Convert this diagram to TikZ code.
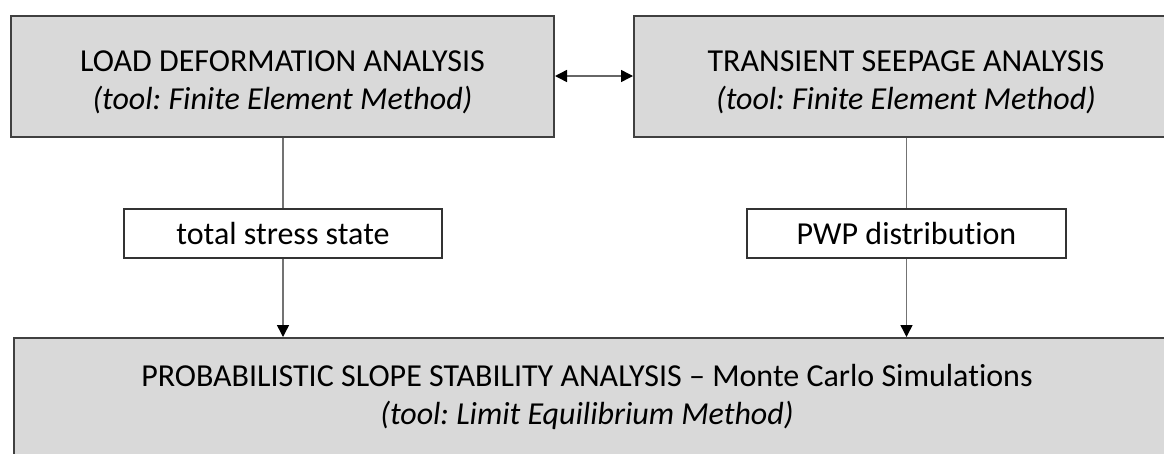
\documentclass[tikz,border=0pt]{standalone}
\usepackage{fontspec}
\setmainfont{Carlito}[Ligatures={NoCommon,NoContextual}]
\usetikzlibrary{arrows.meta}
\frenchspacing
\begin{document}
\begin{tikzpicture}[x=1pt,y=-1pt,
  bigbox/.style={draw=black!75, line width=2pt, fill=black!15, inner sep=0pt},
  midbox/.style={draw=black!80, line width=1.6pt, fill=white, inner sep=0pt, font=\fontsize{32}{38}\selectfont},
  bigtext/.style={align=center, font=\fontsize{32}{40}\selectfont, inner sep=0pt},
  conn/.style={draw=black!55, line width=1.5pt},
  tip/.style={-{Triangle[length=12pt,width=12pt,color=black]}, draw=black!55, line width=1.5pt},
  dtip/.style={{Triangle[length=12pt,width=12pt,color=black]}-{Triangle[length=12pt,width=12pt,color=black]}, draw=black!60, line width=1.5pt}]
\useasboundingbox (0,0) rectangle (1164,453);
\clip (0,0) rectangle (1164,453);
% top boxes
\node[bigbox, minimum width=543pt, minimum height=121pt] (lda) at (282.5,76) {};
\node[bigbox, minimum width=544pt, minimum height=121pt] (tsa) at (906,76) {};
\node[bigtext] (ldat) at (282.5,82) {LOAD DEFORMATION ANALYSIS\\[-2pt]\textit{(tool: Finite Element Method)}};
\node[bigtext] (tsat) at (906,82) {TRANSIENT SEEPAGE ANALYSIS\\[-2pt]\textit{(tool: Finite Element Method)}};
% middle boxes
\node[midbox, minimum width=318pt, minimum height=49pt] (tss) at (283,233.5) {total stress state};
\node[midbox, minimum width=319pt, minimum height=49pt] (pwp) at (906.5,233.5) {PWP distribution};
% bottom box
\node[bigbox, minimum width=1157pt, minimum height=140pt, anchor=north west] (pssa) at (13,337) {};
\node[bigtext] (pssat) at (587,397) {PROBABILISTIC SLOPE STABILITY ANALYSIS -- Monte Carlo Simulations\\[-2pt]\textit{(tool: Limit Equilibrium Method)}};
% connectors
\draw[dtip] (lda.east) -- (tsa.west);
\draw[conn] (lda.south -| tss.north) -- (tss.north);
\draw[conn] (tsa.south -| pwp.north) -- (pwp.north);
\draw[tip] (tss.south) -- (tss.south |- pssa.north);
\draw[tip] (pwp.south) -- (pwp.south |- pssa.north);
\end{tikzpicture}
\end{document}
